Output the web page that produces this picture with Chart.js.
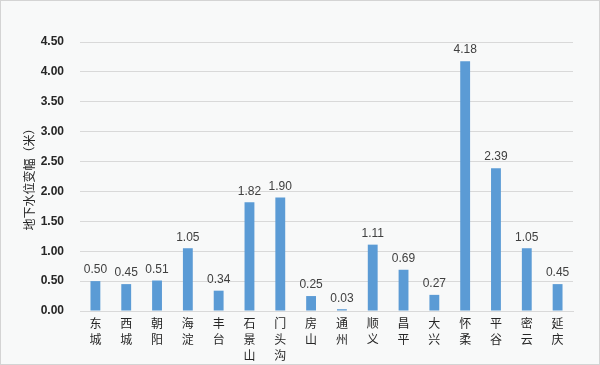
<!DOCTYPE html>
<html>
<head>
<meta charset="utf-8">
<script src="https://cdn.jsdelivr.net/npm/chart.js@4"></script>
<style>
  html, body { margin: 0; padding: 0; background: #ffffff; }
  #wrap { width: 600px; height: 365px; }
</style>
</head>
<body>
<div id="wrap"><canvas id="bar-chart" width="600" height="365"></canvas></div>
<script>
// districts, each one split into stacked characters like the original
var districts = ["东城", "西城", "朝阳", "海淀", "丰台", "石景山", "门头沟", "房山",
                 "通州", "顺义", "昌平", "大兴", "怀柔", "平谷", "密云", "延庆"];
var waterChange = [0.50, 0.45, 0.51, 1.05, 0.34, 1.82, 1.90, 0.25,
                   0.03, 1.11, 0.69, 0.27, 4.18, 2.39, 1.05, 0.45];
var yTitle = "地下水位变幅（米）";

var cjk = "'Noto Sans CJK SC', 'Noto Sans', sans-serif";

// background + thin frame like the spreadsheet chart
var frame = {
    id: "frame",
    beforeDraw: function (chart) {
        var c = chart.ctx;
        c.save();
        c.fillStyle = "#f8f9f9";
        c.fillRect(0, 0, chart.width, chart.height);
        c.strokeStyle = "#d4d4d4";
        c.lineWidth = 1;
        c.strokeRect(0.5, 0.5, chart.width - 1, chart.height - 1);
        c.restore();
    }
};

// value labels above every bar
var valueLabels = {
    id: "valueLabels",
    afterDatasetsDraw: function (chart) {
        var c = chart.ctx;
        var meta = chart.getDatasetMeta(0);
        c.save();
        c.font = "12px 'Liberation Sans', 'DejaVu Sans', sans-serif";
        c.fillStyle = "#404040";
        c.textAlign = "center";
        c.textBaseline = "bottom";
        meta.data.forEach(function (bar, i) {
            c.fillText(waterChange[i].toFixed(2), bar.x, bar.y - 5);
        });
        c.restore();
    }
};

var ctx = document.getElementById("bar-chart").getContext("2d");

new Chart(ctx, {
    type: "bar",
    data: {
        labels: districts.map(function (d) { return d.split(""); }),
        datasets: [{
            data: waterChange,
            backgroundColor: "#5b9bd5",
            categoryPercentage: 1.0,
            barPercentage: 0.32
        }]
    },
    options: {
        responsive: false,
        animation: false,
        layout: { padding: { left: 0, right: 27, top: 42, bottom: 0 } },
        plugins: {
            legend: { display: false },
            tooltip: { enabled: false }
        },
        scales: {
            x: {
                grid: { display: false, drawTicks: false },
                border: { display: true, color: "#d9d9d9" },
                ticks: {
                    color: "#262626",
                    font: { family: cjk, size: 12, lineHeight: 1.35 },
                    padding: 4,
                    maxRotation: 0,
                    autoSkip: false
                },
                afterFit: function (scale) { scale.height = 54; }
            },
            y: {
                min: 0,
                max: 4.5,
                ticks: {
                    stepSize: 0.5,
                    color: "#262626",
                    padding: 16,
                    font: { family: "'Liberation Sans', sans-serif", size: 12, weight: "bold" },
                    callback: function (v) { return v.toFixed(2); }
                },
                grid: { color: "#d9d9d9", drawTicks: false },
                border: { display: false },
                title: {
                    display: true,
                    text: yTitle,
                    color: "#262626",
                    font: { family: cjk, size: 12 },
                    padding: { top: 22, bottom: 8 }
                },
                afterFit: function (scale) { scale.width = 80; }
            }
        }
    },
    plugins: [frame, valueLabels]
});
</script>
</body>
</html>
